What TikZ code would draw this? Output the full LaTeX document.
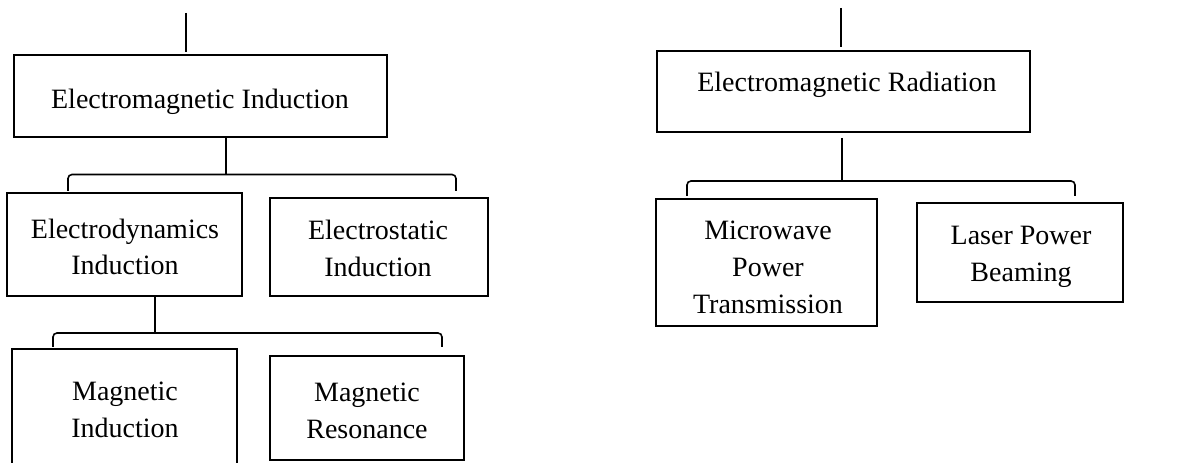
\documentclass[tikz,border=0pt]{standalone}
\usepackage{fontspec}
\setmainfont{Liberation Serif}
\begin{document}
\begin{tikzpicture}[x=0.75pt,y=-0.75pt,
  box/.style={draw=black,line width=1.9pt,rectangle,inner sep=0pt},
  lbl/.style={inner sep=0pt,align=center,anchor=base,font=\fontsize{21}{27.6}\selectfont},
  conn/.style={draw=black,line width=1.2pt},
  bracket/.style={draw=black,line width=1.2pt,rounded corners=3pt}]
\useasboundingbox (0,0) rectangle (1200,463);
\clip (0,0) rectangle (1200,463);
% boxes
\node[box,minimum width=279.75pt,minimum height=61.5pt] (ei) at (200.5,96) {};
\node[box,minimum width=176.25pt,minimum height=77.25pt] (ed) at (124.5,244.5) {};
\node[box,minimum width=163.5pt,minimum height=73.5pt] (es) at (379,247) {};
\node[box,minimum width=168.75pt,minimum height=128.25pt] (mi) at (124.5,434.5) {};
\node[box,minimum width=145.5pt,minimum height=78pt] (mr) at (367,408) {};
\node[box,minimum width=279.75pt,minimum height=60.75pt] (er) at (843.5,91.5) {};
\node[box,minimum width=165.75pt,minimum height=95.25pt] (mw) at (766.5,262.5) {};
\node[box,minimum width=154.5pt,minimum height=74.25pt] (lp) at (1020,252.5) {};
% texts (anchor base = baseline of last line)
\node[lbl] (eit) at (200,108.3) {Electromagnetic Induction};
\node[lbl] (edt) at (125,275) {Electrodynamics\\Induction};
\node[lbl] (est) at (378,276.7) {Electrostatic\\Induction};
\node[lbl] (mit) at (125,437) {Magnetic\\Induction};
\node[lbl] (mrt) at (367,438) {Magnetic\\Resonance};
\node[lbl] (ert) at (847,92) {Electromagnetic Radiation};
\node[lbl] (mwt) at (768,313.3) {Microwave\\Power\\Transmission};
\node[lbl] (lpt) at (1021,281.7) {Laser Power\\Beaming};
% connectors
\coordinate (t1) at (186,13);
\coordinate (t2) at (841,8);
\draw[conn] (t1) -- (186,52);
\draw[conn] (t2) -- (841,47);
\coordinate (b1) at (226,174.5);
\draw[conn] (b1 |- ei.south) -- (b1);
\draw[bracket] (68,191) -- (68,174.5) -- (456,174.5) -- (456,191);
\coordinate (b2) at (155,333);
\draw[conn] (b2 |- ed.south) -- (b2);
\draw[bracket] (53,347) -- (53,333) -- (442,333) -- (442,347);
\coordinate (b3) at (842,181);
\draw[conn] (842,138) -- (b3);
\draw[bracket] (687,196) -- (687,181) -- (1075,181) -- (1075,196);
\end{tikzpicture}
\end{document}
